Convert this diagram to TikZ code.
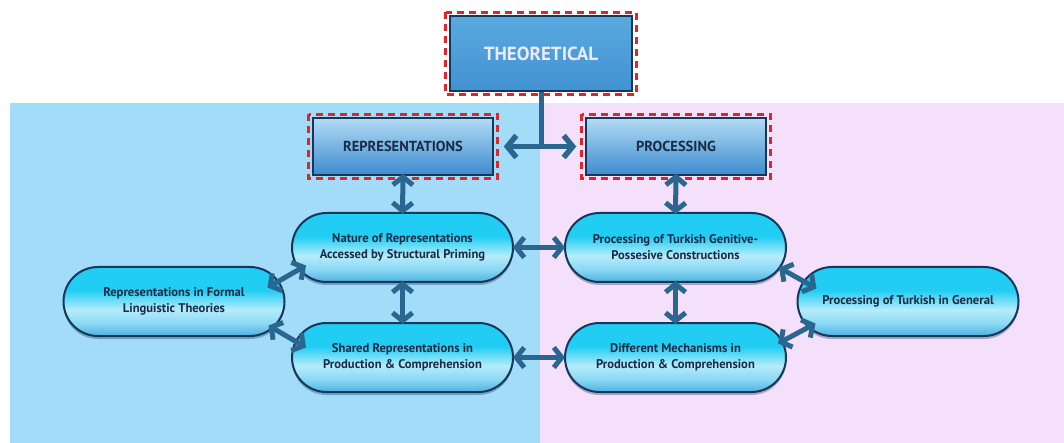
\documentclass[tikz,border=0pt]{standalone}
\usepackage{fontspec}
\setmainfont{PT Sans}
\usetikzlibrary{shapes.misc,arrows.meta,calc,shadows}
\definecolor{bgblue}{HTML}{A3DCF9}
\definecolor{bgpink}{HTML}{F5E0FB}
\definecolor{navy}{HTML}{1A2B45}
\definecolor{edge}{HTML}{16365A}
\definecolor{arr}{HTML}{2A6790}
\definecolor{frame}{HTML}{E0242A}
\definecolor{ot}{HTML}{22CDF4}
\definecolor{ow}{HTML}{B5ECFA}
\definecolor{ol}{HTML}{8AD8F3}
\definecolor{ob}{HTML}{4CB2E2}
\definecolor{rt}{HTML}{B3DCF4}
\definecolor{rb}{HTML}{3D8BD0}
\definecolor{tt}{HTML}{5AAAE0}
\definecolor{tb}{HTML}{4291D2}
\pgfdeclareverticalshading{ovalsh}{100bp}{color(0bp)=(ob); color(25bp)=(ob); color(34bp)=(ol); color(44bp)=(ow); color(58bp)=(ot); color(75bp)=(ot); color(100bp)=(ot)}
\tikzset{
  oval/.style={rounded rectangle, draw=edge, line width=2pt, shading=ovalsh,
    minimum width=221pt, minimum height=69pt, inner sep=0pt, align=center,
    font=\bfseries\fontsize{12.6}{16}\selectfont, text=navy,
    drop shadow={shadow xshift=0pt, shadow yshift=-3pt, opacity=0.35, fill=edge}},
  headbox/.style={rectangle, draw=edge, line width=1.5pt, top color=rt, bottom color=rb,
    minimum width=180pt, minimum height=57pt, inner sep=0pt,
    font=\bfseries\fontsize{14.5}{16}\selectfont, text=navy},
  topbox/.style={rectangle, draw=edge, line width=1.5pt, top color=tt, bottom color=tb,
    minimum width=182pt, minimum height=75pt, inner sep=0pt,
    font=\bfseries\fontsize{19}{21}\selectfont, text=white!92!blue},
  redframe/.style={draw=frame, line width=3pt, dash pattern=on 7pt off 5pt},
  darr/.style={line width=5pt, draw=arr,
    {Straight Barb[length=8pt,width=20pt,line width=5pt]}-{Straight Barb[length=8pt,width=20pt,line width=5pt]}},
  sarr/.style={line width=5pt, draw=arr, -{Straight Barb[length=9pt,width=22pt,line width=5.5pt]}},
  trunk/.style={line width=5pt, draw=arr}
}
\begin{document}
\begin{tikzpicture}[x=1pt,y=-1pt]
\useasboundingbox (0,0) rectangle (1064,443);
\fill[white] (0,0) rectangle (1064,443);
\fill[bgblue] (10,103) rectangle (540,443);
\fill[bgpink] (540,103) rectangle (1064,443);

\node[topbox] (theo) at (541,53.5) {THEORETICAL};
\node[headbox] (repr) at (403,146.5) {REPRESENTATIONS};
\node[headbox] (proc) at (676,146.5) {PROCESSING};
\foreach \n in {theo,repr,proc}
  \draw[redframe] ($(\n.north west)+(-3.5,-3)$) rectangle ($(\n.south east)+(3.5,3)$);

\coordinate (j) at (theo.south |- repr.east);
\draw[trunk] (theo.south) -- ($(j)+(0,2.5)$);
\draw[sarr] ($(j)+(2.5,0)$) -- ($(repr.east)+(10,0)$);
\draw[sarr] ($(j)+(-2.5,0)$) -- ($(proc.west)+(-9,0)$);

\node[oval] (nat) at (402.5,247.5) {Nature of Representations\\Accessed by Structural Priming};
\node[oval] (shr) at (402.5,357.5) {Shared Representations in\\Production \& Comprehension};
\node[oval] (frm) at (174,301.5) {Representations in Formal\\Linguistic Theories};
\node[oval] (gen) at (675.5,247.5) {Processing of Turkish Genitive-\\Possesive Constructions};
\node[oval] (dif) at (675.5,357.5) {Different Mechanisms in\\Production \& Comprehension};
\node[oval] (gnl) at (908,301.5) {Processing of Turkish in General};

\draw[darr] ($(repr.south)+(0,-2)$) -- ($(nat.north)+(0,2)$);
\draw[darr] ($(proc.south)+(0,-2)$) -- ($(gen.north)+(0,2)$);
\draw[darr] ($(nat.south)+(0,-2)$) -- ($(shr.north)+(0,2)$);
\draw[darr] ($(gen.south)+(0,-2)$) -- ($(dif.north)+(0,2)$);
\draw[darr] ($(nat.east)+(-1,0)$) -- ($(gen.west)+(1,0)$);
\draw[darr] ($(shr.east)+(-1,0)$) -- ($(dif.west)+(1,0)$);
\draw[darr] ($(frm.east)+(-18,-14)$) -- ($(nat.west)+(15,18)$);
\draw[darr] ($(frm.east)+(-17,24)$) -- ($(shr.west)+(15,-10)$);
\draw[darr] ($(gen.east)+(-8,20)$) -- ($(gnl.west)+(20,-13)$);
\draw[darr] ($(dif.east)+(-9,-14)$) -- ($(gnl.west)+(19,22)$);
\end{tikzpicture}
\end{document}
